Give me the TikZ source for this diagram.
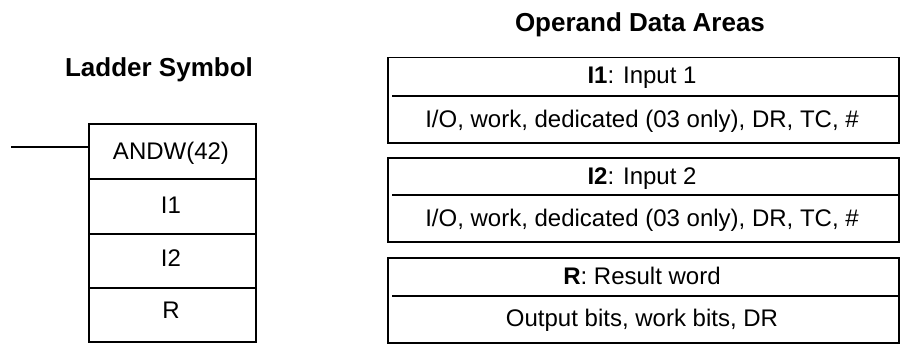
\documentclass[tikz,border=0pt]{standalone}
\usepackage{fontspec}
\setmainfont{Liberation Sans}
\usetikzlibrary{calc}
\begin{document}
\begin{tikzpicture}[x=1pt,y=-1pt,
  box/.style={draw, line width=1.5pt, inner sep=0pt, anchor=north west},
  lbl/.style={font=\fontsize{24}{28}\selectfont, inner sep=0pt, anchor=base},
  ttl/.style={font=\fontsize{26}{30}\selectfont\bfseries, inner sep=0pt, anchor=base},
  divline/.style={line width=2pt}]
\useasboundingbox (0,0) rectangle (900,345);
% titles
\node[ttl] (t1) at (159,77) {Ladder Symbol};
\node[ttl] (t2) at (640,32) {Operand Data Areas};
% ladder symbol
\node[box, minimum width=167pt, minimum height=55pt] (c0) at (88,123) {};
\node[box, minimum width=167pt, minimum height=55pt] (c1) at (88,178) {};
\node[box, minimum width=167pt, minimum height=54pt] (c2) at (88,233) {};
\node[box, minimum width=167pt, minimum height=54pt] (c3) at (88,287) {};
\coordinate (in) at (11,147);
\draw[line width=1.5pt] (in) -- (in -| c0.west);
\node[lbl] (l0) at (171,159) {ANDW(42)};
\node[lbl] (l1) at (171,213) {I1};
\node[lbl] (l2) at (171,266) {I2};
\node[lbl] (l3) at (171,318) {R};
% operand boxes
\node[box, minimum width=511pt, minimum height=85pt] (o1) at (387,57) {};
\node[box, minimum width=511pt, minimum height=84pt] (o2) at (387,157) {};
\node[box, minimum width=511pt, minimum height=85pt] (o3) at (387,257) {};
\draw[divline] ($(o1.north west)+(5,39)$) -- ($(o1.north east)+(-2,39)$);
\draw[divline] ($(o2.north west)+(5,38)$) -- ($(o2.north east)+(-2,38)$);
\draw[divline] ($(o3.north west)+(5,39)$) -- ($(o3.north east)+(-2,39)$);
\node[lbl] (a1) at (642,84) {\textbf{I1}: Input 1};
\node[lbl] (b1) at (642,127) {I/O, work, dedicated (03 only), DR, TC, \#};
\node[lbl] (a2) at (642,184) {\textbf{I2}: Input 2};
\node[lbl] (b2) at (642,226) {I/O, work, dedicated (03 only), DR, TC, \#};
\node[lbl] (a3) at (642,284) {\textbf{R}: Result word};
\node[lbl] (b3) at (642,326) {Output bits, work bits, DR};
\end{tikzpicture}
\end{document}
